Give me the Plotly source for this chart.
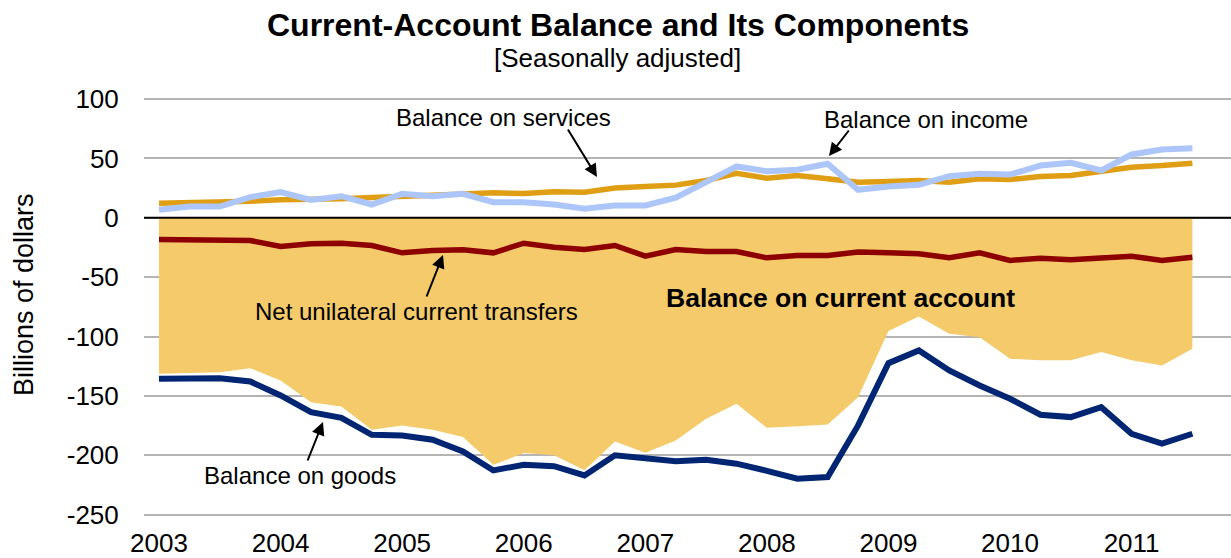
import plotly.graph_objects as go

# ---- data (billions of dollars, quarterly 2003Q1 .. 2011Q3) ----
years = ["2003", "2004", "2005", "2006", "2007", "2008", "2009", "2010", "2011"]
goods = [-135.5, -135.0, -135.0, -137.8, -149.6, -163.6, -168.4, -182.7, -183.3, -186.9,
         -196.8, -212.7, -207.9, -209.1, -216.9, -200.0, -202.0, -204.9, -203.7, -207.0,
         -213.0, -219.7, -218.3, -174.8, -122.4, -111.7, -128.5, -141.2, -152.4, -165.8,
         -167.8, -159.4, -181.8, -190.2, -181.8]
services = [12.3, 12.6, 13.0, 14.0, 15.1, 15.0, 16.0, 17.0, 18.5, 19.0,
            20.0, 21.0, 20.5, 22.0, 21.5, 25.0, 26.3, 27.5, 31.4, 37.5,
            33.3, 35.6, 32.8, 30.0, 30.5, 31.4, 30.0, 32.8, 32.2, 34.8,
            35.6, 39.2, 42.6, 44.0, 46.0]
income = [6.7, 9.5, 9.5, 17.4, 21.6, 15.1, 18.2, 11.2, 20.2, 18.2,
          20.2, 13.1, 13.1, 11.2, 7.6, 10.4, 10.4, 17.0, 30.0, 43.2,
          39.2, 40.4, 45.5, 23.6, 26.3, 27.8, 35.0, 37.0, 36.4, 44.0,
          46.3, 39.8, 53.3, 57.5, 58.6]
transfers = [-18.3, -18.3, -18.3, -19.1, -24.2, -21.9, -21.4, -23.3, -29.5, -27.5,
             -27.0, -29.5, -21.4, -24.7, -26.7, -23.3, -32.3, -26.8, -28.4, -28.4,
             -33.7, -31.7, -31.7, -28.9, -29.5, -30.3, -33.7, -29.5, -35.9, -34.0,
             -35.4, -33.7, -32.3, -35.9, -33.2]
current_account = [-131.3, -130.8, -130.0, -126.6, -137.0, -155.2, -158.8, -178.5, -174.8, -178.5,
                   -184.6, -208.0, -198.1, -200.0, -212.5, -188.3, -197.8, -187.5, -169.2, -156.6,
                   -176.8, -175.4, -174.0, -151.0, -95.4, -83.0, -97.6, -100.5, -118.7, -120.0,
                   -120.0, -113.0, -120.0, -124.3, -110.3]
y_ticks = [-250, -200, -150, -100, -50, 0, 50, 100]
y_tick_labels = ["-250", "-200", "-150", "-100", "-50", "0", "50", "100"]

x = list(range(len(goods)))
tick_pos = [4 * i for i in range(len(years))]

FONT = "Liberation Sans, Arial, sans-serif"
FILL = "#F4CA6A"
GOLD = "#E09E14"
LIGHTBLUE = "#ADC6FA"
DARKRED = "#8E0000"
NAVY = "#002673"

W, H = 1231, 558
L, R, T, B = 144, 0, 97, 41
PW, PH = W - L - R, H - T - B


def px(xpix):
    return (xpix - L) / PW


def py(ypix):
    return (H - B - ypix) / PH


fig = go.Figure()
fig.add_trace(go.Scatter(x=x, y=current_account, mode="lines", fill="tozeroy",
                         fillcolor=FILL, line=dict(width=0, color=FILL),
                         hoverinfo="skip", showlegend=False))
fig.add_trace(go.Scatter(x=x, y=services, mode="lines",
                         line=dict(color=GOLD, width=5.5), showlegend=False))
fig.add_trace(go.Scatter(x=x, y=income, mode="lines",
                         line=dict(color=LIGHTBLUE, width=6), showlegend=False))
fig.add_trace(go.Scatter(x=x, y=transfers, mode="lines",
                         line=dict(color=DARKRED, width=5.5), showlegend=False))
fig.add_trace(go.Scatter(x=x, y=goods, mode="lines",
                         line=dict(color=NAVY, width=6), showlegend=False))

annotations = [
    dict(text="<b>Current-Account Balance and Its Components</b>", x=px(618), y=py(25),
         font=dict(size=32)),
    dict(text="[Seasonally adjusted]", x=px(617), y=py(58), font=dict(size=26)),
    dict(text="Billions of dollars", x=px(24), y=py(295), textangle=-90, font=dict(size=27)),
    dict(text="Balance on services", x=px(503), y=py(117), font=dict(size=24)),
    dict(text="Balance on income", x=px(926), y=py(119), font=dict(size=24)),
    dict(text="Net unilateral current transfers", x=px(416), y=py(311), font=dict(size=24)),
    dict(text="Balance on goods", x=px(300), y=py(475), font=dict(size=24)),
    dict(text="<b>Balance on current account</b>", x=px(840), y=py(298), font=dict(size=26.5)),
]
for a in annotations:
    a.update(xref="paper", yref="paper", showarrow=False, xanchor="center", yanchor="middle")
    a["font"].update(family=FONT, color="black")

# arrows: (head_x_px, head_y_px, tail offset ax, ay)
arrows = [(597, 177, -30, -49), (829, 156, 21, -27), (443, 255, -17, 43), (323, 422, -16, 40)]
for hx, hy, ax, ay in arrows:
    annotations.append(dict(text="", xref="paper", yref="paper", x=px(hx), y=py(hy),
                            showarrow=True, arrowhead=2, arrowsize=1.3, arrowwidth=2,
                            arrowcolor="black", ax=ax, ay=ay, axref="pixel", ayref="pixel",
                            standoff=0))

fig.update_layout(
    width=W, height=H, margin=dict(l=L, r=R, t=T, b=B, autoexpand=False),
    paper_bgcolor="white", plot_bgcolor="white",
    font=dict(family=FONT, color="black"),
    annotations=annotations,
    shapes=[dict(type="line", xref="paper", yref="y", x0=0, x1=1, y0=0, y1=0,
                 line=dict(color="black", width=2), layer="above")],
    xaxis=dict(range=[-0.494, 35.27], tickvals=tick_pos, ticktext=years,
               showgrid=False, zeroline=False, showline=False, automargin=False,
               ticks="outside", ticklen=3, tickcolor="rgba(0,0,0,0)",
               tickfont=dict(size=26, family=FONT, color="black")),
    yaxis=dict(range=[-251.9, 101.7], tickvals=y_ticks, ticktext=y_tick_labels,
               showgrid=True, gridcolor="#B4B4B4", gridwidth=2, automargin=False,
               zeroline=False, showline=False,
               ticks="outside", ticklen=19, tickcolor="rgba(0,0,0,0)",
               tickfont=dict(size=26, family=FONT, color="black")),
)

fig.write_html("out.html")
